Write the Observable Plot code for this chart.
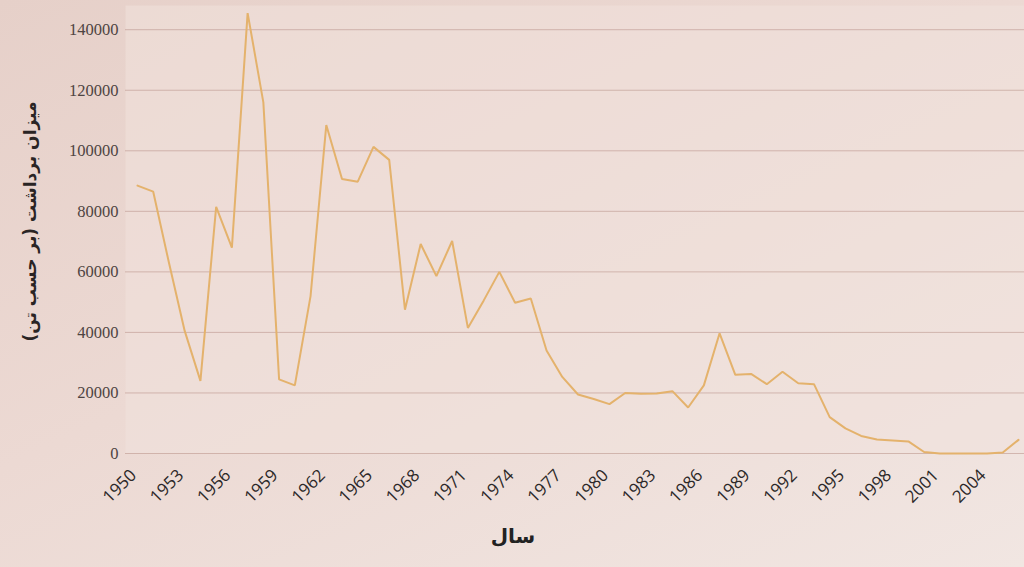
<!DOCTYPE html>
<html>
<head>
<meta charset="utf-8">
<script src="https://cdn.jsdelivr.net/npm/d3@7"></script>
<script src="https://cdn.jsdelivr.net/npm/@observablehq/plot@0.6"></script>
<style>
html,body{margin:0;padding:0;width:1024px;height:567px;overflow:hidden;
  background:linear-gradient(155deg,#e6d0c9 0%,#ecd9d3 45%,#f1e6e2 100%);}
#chart svg{display:block;background:transparent;}
</style>
</head>
<body>
<div id="chart"></div>
<script>
const years = [1950,1951,1952,1953,1954,1955,1956,1957,1958,1959,
  1960,1961,1962,1963,1964,1965,1966,1967,1968,1969,
  1970,1971,1972,1973,1974,1975,1976,1977,1978,1979,
  1980,1981,1982,1983,1984,1985,1986,1987,1988,1989,
  1990,1991,1992,1993,1994,1995,1996,1997,1998,1999,
  2000,2001,2002,2003,2004,2005,2006];
const harvest = [88500,86500,63000,40500,24000,81500,68000,145500,116000,24500,
  22500,52000,108500,90700,89800,101300,97000,47500,69200,58600,
  70200,41500,50500,60000,49800,51200,34000,25300,19500,18000,
  16300,20000,19700,19800,20600,15200,22500,39700,26000,26300,
  22900,27000,23200,22900,12000,8300,5800,4600,4300,4000,
  500,0,0,0,0,300,4500];
const yTicks = [0,20000,40000,60000,80000,100000,120000,140000];
const xTicks = [1950,1953,1956,1959,1962,1965,1968,1971,1974,1977,1980,1983,1986,1989,1992,1995,1998,2001,2004];
const yLabel = ["میزان برداشت (بر حسب تن)"];
const xLabel = ["سال"];

const data = years.map((y, i) => ({year: y, value: harvest[i]}));

const chart = Plot.plot({
  width: 1024,
  height: 567,
  marginLeft: 125,
  marginRight: 0,
  marginTop: 5,
  marginBottom: 114,
  style: {background: "transparent", overflow: "visible"},
  x: {domain: [1950, 2006], range: [137, 1018]},
  y: {domain: [0, 148000]},
  marks: [
    Plot.frame({fill: "#f1e2dc", fillOpacity: 0.55, stroke: null}),
    Plot.gridY(yTicks, {stroke: "#b48a80", strokeOpacity: 0.5, strokeWidth: 1}),
    Plot.axisY({ticks: yTicks, tickSize: 0, tickPadding: 7, tickFormat: d3.format("d"),
      fontSize: 16.5, fontFamily: "Liberation Serif", fill: "#4e4442", label: null}),
    Plot.axisX({ticks: xTicks, tickRotate: -45, tickSize: 0, tickPadding: 19, dx: -4,
      tickFormat: d => String(d), fontSize: 17, fontFamily: "Open Sans", fill: "#2c2828", label: null}),
    Plot.line(data, {x: "year", y: "value", stroke: "#e4b26c", strokeWidth: 2, strokeLinejoin: "miter"}),
    Plot.text(xLabel, {frameAnchor: "bottom", dx: -62, dy: 89, fontSize: 20, fontWeight: "bold",
      fontFamily: "DejaVu Sans", fill: "#222"}),
    Plot.text(yLabel, {frameAnchor: "left", textAnchor: "middle", rotate: -90, dx: -95, dy: -8, fontSize: 17, fontWeight: "bold",
      fontFamily: "DejaVu Sans", fill: "#2a2424"})
  ]
});
document.getElementById("chart").appendChild(chart);
</script>
</body>
</html>
